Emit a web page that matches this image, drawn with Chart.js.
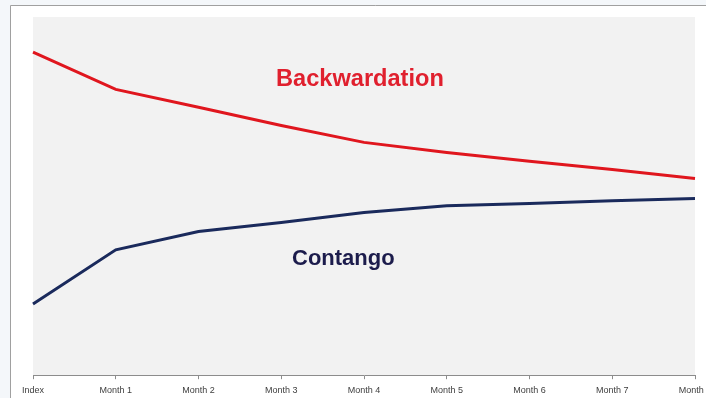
<!DOCTYPE html>
<html>
<head>
<meta charset="utf-8">
<script src="https://cdn.jsdelivr.net/npm/chart.js@4/dist/chart.umd.min.js"></script>
<style>
    html, body { margin: 0; padding: 0; width: 706px; height: 398px; overflow: hidden; background: #fff; }
    #wrap { position: relative; width: 706px; height: 398px; overflow: hidden; }
    canvas { position: absolute; left: 0; top: 0; }
    .etiqueta { position: absolute; font-family: "Liberation Sans", Arial, sans-serif; font-weight: bold; line-height: 1; white-space: nowrap; }
</style>
</head>
<body>
<div id="wrap">
    <canvas id="grafico" width="740" height="405"></canvas>
    <div class="etiqueta" style="left:276px; top:67px; font-size:23.6px; color:#e0202e;">Backwardation</div>
    <div class="etiqueta" style="left:292px; top:247px; font-size:22px; color:#1c1c4c;">Contango</div>
</div>
<script>
const categorias = ['Index', 'Month 1', 'Month 2', 'Month 3', 'Month 4', 'Month 5', 'Month 6', 'Month 7', 'Month 8'];
const backwardation = [90.2, 79.8, 74.8, 69.7, 65.0, 62.2, 59.7, 57.4, 54.9];
const contango = [19.9, 35.0, 40.1, 42.6, 45.4, 47.3, 47.9, 48.7, 49.3];

// fundo: moldura cinza e area do grafico
const fundo = {
    id: 'fundo',
    beforeDraw(chart) {
        const ctx = chart.ctx;
        const area = chart.chartArea;
        ctx.save();
        ctx.fillStyle = '#f4f7fa';
        ctx.fillRect(0, 0, chart.width, chart.height);
        ctx.fillStyle = '#ffffff';
        ctx.fillRect(10, 5, chart.width - 10, chart.height - 5);
        ctx.strokeStyle = '#a0a0a0';
        ctx.lineWidth = 1;
        ctx.beginPath();
        ctx.moveTo(10.5, chart.height);
        ctx.lineTo(10.5, 5.5);
        ctx.lineTo(chart.width, 5.5);
        ctx.stroke();
        ctx.fillStyle = '#f2f2f2';
        ctx.fillRect(area.left, area.top, area.right - area.left, area.bottom - area.top);
        ctx.restore();
    }
};

new Chart(document.getElementById('grafico').getContext('2d'), {
    type: 'line',
    data: {
        labels: categorias,
        datasets: [{
            label: 'Backwardation',
            data: backwardation,
            borderColor: '#e0161e',
            borderWidth: 3,
            pointRadius: 0,
            tension: 0,
            fill: false
        }, {
            label: 'Contango',
            data: contango,
            borderColor: '#1a2a5c',
            borderWidth: 3,
            pointRadius: 0,
            tension: 0,
            fill: false
        }]
    },
    options: {
        responsive: false,
        animation: false,
        layout: {
            padding: { left: 33, right: 45, top: 17, bottom: 3 }
        },
        plugins: {
            legend: { display: false },
            tooltip: { enabled: false }
        },
        scales: {
            x: {
                offset: false,
                grid: {
                    drawOnChartArea: false,
                    drawTicks: true,
                    tickLength: 4,
                    color: '#8c8c8c'
                },
                border: { color: '#8c8c8c', width: 1 },
                ticks: {
                    color: '#404040',
                    padding: 6,
                    maxRotation: 0,
                    autoSkip: false,
                    font: { family: '"Liberation Sans", Arial, sans-serif', size: 9 }
                }
            },
            y: {
                display: false,
                min: 0,
                max: 100
            }
        }
    },
    plugins: [fundo]
});
</script>
</body>
</html>
